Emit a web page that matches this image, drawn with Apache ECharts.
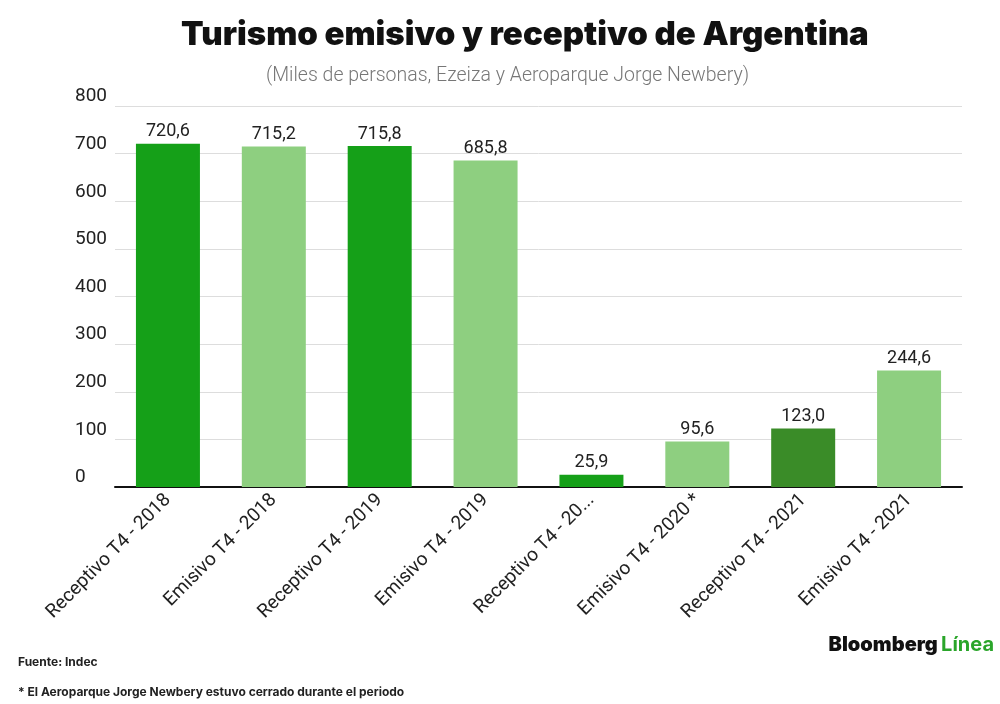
<!DOCTYPE html>
<html><head><meta charset="utf-8">
<script src="https://cdn.jsdelivr.net/npm/echarts@6/dist/echarts.min.js"></script>
<style>html,body{margin:0;padding:0;background:#fff}#c{width:1000px;height:704px}</style>
</head><body><div id="c"></div>
<script>
const categories = ["Receptivo T4 - 2018","Emisivo T4 - 2018","Receptivo T4 - 2019","Emisivo T4 - 2019","Receptivo T4 - 20...","Emisivo T4 - 2020 *","Receptivo T4 - 2021","Emisivo T4 - 2021"];
const values = [720.6,715.2,715.8,685.8,25.9,95.6,123.0,244.6];
const colors = ["#15a018","#8ecf80","#15a018","#8ecf80","#15a018","#8ecf80","#3a8c28","#8ecf80"];
const yTicks = [0,100,200,300,400,500,600,700,800];
const chart = echarts.init(document.getElementById('c'));
chart.setOption({
  animation:false,
  title:[
    {text:"Turismo emisivo y receptivo de Argentina",left:176,top:14,textStyle:{fontFamily:'Inter',fontWeight:900,fontSize:33,color:'#111'}},
    {text:"(Miles de personas, Ezeiza y Aeroparque Jorge Newbery)",left:261,top:61,textStyle:{fontFamily:'Roboto',fontWeight:300,fontSize:19.5,color:'#777'}}
  ],
  graphic:[
    {type:'text',left:18,top:656,style:{text:'Fuente: Indec',font:'bold 12px Inter',fill:'#222'}},
    {type:'text',left:18,top:686,style:{text:'* El Aeroparque Jorge Newbery estuvo cerrado durante el periodo',font:'bold 12px Inter',fill:'#222'}},
    {type:'text',right:6,top:635,style:{rich:{a:{font:'900 20px Inter',fill:'#111'},b:{font:'bold 20px Inter',fill:'#2aa52a'}},text:'{a|Bloomberg} {b|Línea}'}}
  ],
  grid:{left:115,right:38,top:106,bottom:217},
  xAxis:{type:'category',data:categories,axisTick:{show:false},
    axisLine:{lineStyle:{color:'#111',width:2}},
    axisLabel:{rotate:45,interval:0,fontFamily:'Roboto',fontSize:19,color:'#222',margin:10}},
  yAxis:{type:'value',min:yTicks[0],max:yTicks[yTicks.length-1],interval:100,
    axisLine:{show:false},axisTick:{show:false},
    splitLine:{lineStyle:{color:'#ddd'}},
    axisLabel:{align:'left',margin:40,verticalAlign:'bottom',fontFamily:'Roboto',fontSize:19,color:'#222'}},
  series:[{type:'bar',barWidth:64,
    data:values.map((v,i)=>({value:v,itemStyle:{color:colors[i]}})),
    label:{show:true,position:'top',distance:3,fontFamily:'Roboto',fontSize:18,color:'#222',
      formatter:p=>p.value.toFixed(1).replace('.',',')}}]
});
</script></body></html>
